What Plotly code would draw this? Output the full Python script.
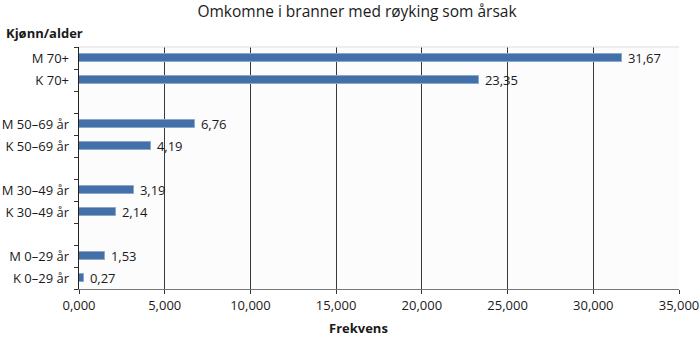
import plotly.graph_objects as go

# Deaths in fires caused by smoking, by sex and age group
groups = ["M 70+", "K 70+", "M 50–69 år", "K 50–69 år",
          "M 30–49 år", "K 30–49 år", "M 0–29 år", "K 0–29 år"]
values = [31.67, 23.35, 6.76, 4.19, 3.19, 2.14, 1.53, 0.27]
x_ticks = [0, 5, 10, 15, 20, 25, 30, 35]
x_tick_labels = ["0,000", "5,000", "10,000", "15,000", "20,000", "25,000", "30,000", "35,000"]

# Slot positions: pairs with an empty slot between groups
positions = [i + i // 2 for i in range(len(groups))]
n_slots = positions[-1] + 1
boundaries = [p - 0.5 for p in range(n_slots + 1)]

font_family = "Open Sans, Lato, sans-serif"
bar_color = "#4370a9"

fig = go.Figure()
fig.add_trace(go.Bar(
    x=values,
    y=positions,
    orientation="h",
    width=0.37,
    marker=dict(color=bar_color, line=dict(color="#8aa7cc", width=1)),
    text=["\u00a0" + f"{v:.2f}".replace(".", ",") for v in values],
    textposition="outside",
    constraintext="none",
    textfont=dict(family=font_family, size=13, color="#1a1a1a"),
    cliponaxis=False,
    hoverinfo="skip",
))
# invisible trace carrying the category labels on the overlay axis
fig.add_trace(go.Scatter(x=[0] * len(groups), y=positions, yaxis="y2",
                         mode="markers", marker=dict(opacity=0), hoverinfo="skip"))

fig.update_layout(
    width=700, height=340,
    margin=dict(l=79, r=21, t=47, b=51, autoexpand=False),
    paper_bgcolor="white",
    plot_bgcolor="#fcfcfc",
    showlegend=False,
    bargap=0,
    font=dict(family=font_family, size=13, color="#1a1a1a"),
    title=dict(text="Omkomne i branner med røyking som årsak",
               x=0.51, xanchor="center", y=0.965, yanchor="middle",
               font=dict(family=font_family, size=15.5, color="#1a1a1a")),
    xaxis=dict(
        range=[0, 35],
        tickmode="array", tickvals=x_ticks, ticktext=x_tick_labels,
        showgrid=True, gridcolor="#3a3a3a", gridwidth=1,
        zeroline=False,
        showline=True, linecolor="#777777", linewidth=1,
        ticks="outside", ticklen=4, tickcolor="#333333",
        tickfont=dict(size=13),
        automargin=False,
        fixedrange=True,
    ),
    yaxis=dict(
        range=[n_slots - 0.5, -0.5],
        tickmode="array", tickvals=boundaries, ticktext=[""] * len(boundaries),
        showgrid=False, zeroline=False,
        showline=True, linecolor="#222222", linewidth=1,
        ticks="outside", ticklen=4, tickcolor="#333333",
        automargin=False,
        fixedrange=True,
    ),
    yaxis2=dict(
        overlaying="y", side="left",
        range=[n_slots - 0.5, -0.5],
        tickmode="array", tickvals=positions, ticktext=groups,
        ticks="", showgrid=False, zeroline=False, showline=False,
        tickfont=dict(size=13),
        ticklabelstandoff=9,
        automargin=False,
        fixedrange=True,
    ),
    shapes=[dict(type="line", xref="paper", yref="paper", x0=0, x1=1, y0=1, y1=1,
                 line=dict(color="#dddddd", width=1))],
    annotations=[
        dict(text="<b>Kjønn/alder</b>", xref="paper", yref="paper",
             x=-75 / 600, y=1 + 14 / 242, xanchor="left", yanchor="middle",
             showarrow=False, font=dict(size=13)),
        dict(text="<b>Frekvens</b>", xref="paper", yref="paper",
             x=(358 - 79) / 600, y=-39 / 242, xanchor="center", yanchor="middle",
             showarrow=False, font=dict(size=13)),
    ],
)

fig.write_html("out.html")
